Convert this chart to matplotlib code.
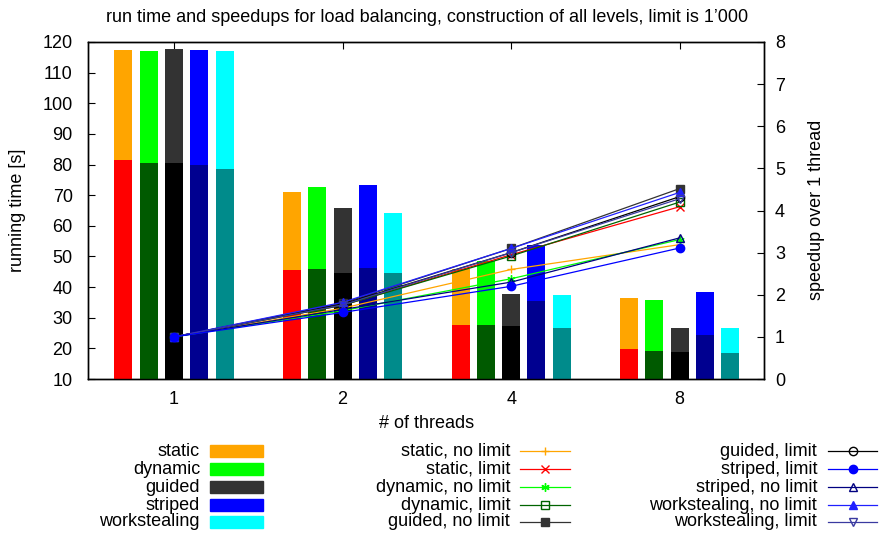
import matplotlib
matplotlib.use("Agg")
import matplotlib.pyplot as plt
from matplotlib.lines import Line2D
from matplotlib.patches import Rectangle

plt.rcParams['font.family'] = ['Liberation Sans', 'DejaVu Sans']

threads = ["1", "2", "4", "8"]

# bar data (running time [s]): total and lower part
schedules = ["static", "dynamic", "guided", "striped", "workstealing"]
time_total = {
    "static":       [117.4, 71.0, 46.0, 36.6],
    "dynamic":      [117.0, 72.6, 48.6, 35.9],
    "guided":       [117.8, 65.9, 37.7, 26.5],
    "striped":      [117.5, 73.2, 53.9, 38.3],
    "workstealing": [117.0, 64.3, 37.5, 26.8],
}
time_part = {
    "static":       [81.4, 45.5, 27.7, 19.8],
    "dynamic":      [80.5, 45.8, 27.7, 19.2],
    "guided":       [80.5, 44.7, 27.3, 18.9],
    "striped":      [80.0, 46.1, 35.5, 24.5],
    "workstealing": [78.7, 44.6, 26.8, 18.5],
}
color_total = ["#ffa500", "#00ff00", "#333333", "#0000ff", "#00ffff"]
color_part = ["#ff0000", "#005a00", "#000000", "#000090", "#008b8b"]

# speedup lines
line_labels = ["static, no limit", "static, limit", "dynamic, no limit",
               "dynamic, limit", "guided, no limit", "guided, limit",
               "striped, limit", "striped, no limit",
               "workstealing, no limit", "workstealing, limit"]
speedups = [
    [1.0, 1.68, 2.60, 3.19],
    [1.0, 1.75, 2.95, 4.09],
    [1.0, 1.62, 2.38, 3.31],
    [1.0, 1.75, 2.92, 4.20],
    [1.0, 1.80, 3.10, 4.52],
    [1.0, 1.78, 3.00, 4.33],
    [1.0, 1.58, 2.20, 3.11],
    [1.0, 1.65, 2.30, 3.35],
    [1.0, 1.82, 3.10, 4.43],
    [1.0, 1.76, 3.00, 4.28],
]
line_colors = ["#ffa500", "#ff0000", "#00ff00", "#006400", "#333333",
               "#000000", "#0000ff", "#000080", "#2020ff", "#3a3aa0"]
line_markers = ["+", "x", (6, 2, 0), "s", "s", "o", "o", "^", "^", "v"]
marker_filled = [True, True, True, False, True, False, True, False, True, False]
# draw order (striped limit dot ends on top, as in the reference)
draw_order = [0, 1, 2, 3, 4, 5, 7, 8, 9, 6]

W, H = 880, 533
fig = plt.figure(figsize=(W / 100, H / 100), dpi=100)
L, R, T, B = 88, 764, 42, 379
ax = fig.add_axes([L / W, 1 - B / H, (R - L) / W, (B - T) / H])
ax2 = ax.twinx()

xs = list(range(len(threads)))
step, width = 0.15, 0.107
for i, s in enumerate(schedules):
    off = (i - 2) * step
    pos = [x + off for x in xs]
    ax.bar(pos, time_total[s], width=width, color=color_total[i], zorder=2)
    ax.bar(pos, time_part[s], width=width, color=color_part[i], zorder=3)

for k in draw_order:
    c, m, f = line_colors[k], line_markers[k], marker_filled[k]
    ax2.plot(xs, speedups[k], color=c, lw=0.9, marker=m, markersize=6,
             markerfacecolor=(c if f else "none"), markeredgecolor=c,
             markeredgewidth=1.0)

ax.set_xlim(-0.51, 3.5)
ax.set_ylim(10, 120)
ax.set_yticks(range(10, 121, 10))
ax.set_xticks(xs)
ax.set_xticklabels(threads)
ax2.set_ylim(0, 8)
ax2.set_yticks(range(0, 9))

fs = 13
ax.tick_params(axis='y', direction='in', length=5, labelsize=fs, right=False, pad=11)
ax.tick_params(axis='x', direction='in', length=5, labelsize=fs, top=True, pad=9)
ax2.tick_params(axis='y', direction='in', length=5, labelsize=fs, pad=8)
for a in (ax, ax2):
    for sp_ in a.spines.values():
        sp_.set_linewidth(1.0)

fig.text(18 / W, 1 - 210 / H, "running time [s]", rotation=90, ha='center', va='center', fontsize=fs)
fig.text(816 / W, 1 - 210 / H, "speedup over 1 thread", rotation=90, ha='center', va='center', fontsize=fs)
fig.text(427 / W, 1 - 423 / H, "# of threads", ha='center', va='center', fontsize=fs)
fig.text(427 / W, 1 - 17 / H,
         "run time and speedups for load balancing, construction of all levels, limit is 1’000",
         ha='center', va='center', fontsize=fs)

# custom legend (labels right-aligned, sample to the right)
def fx(px):
    return px / W

def fy(py):
    return 1 - py / H

rows = [451, 469, 487, 505, 522]
for i, s in enumerate(schedules):
    y = rows[i]
    fig.text(fx(200), fy(y), s, ha='right', va='center', fontsize=fs)
    fig.add_artist(Rectangle((fx(210), fy(y + 6)), fx(263) - fx(210), (12 / H),
                             transform=fig.transFigure, color=color_total[i]))

cols = [(510, 520, 570), (817, 828, 877)]
for k, (lab, c, m, f) in enumerate(zip(line_labels, line_colors, line_markers, marker_filled)):
    col = k // 5
    y = rows[k % 5]
    tx, x0, x1 = cols[col]
    fig.text(fx(tx), fy(y), lab, ha='right', va='center', fontsize=fs)
    fig.add_artist(Line2D([fx(x0), fx(x1)], [fy(y), fy(y)], transform=fig.transFigure,
                          color=c, lw=0.9))
    fig.add_artist(Line2D([fx((x0 + x1) / 2)], [fy(y)], transform=fig.transFigure,
                          color=c, marker=m, markersize=6,
                          markerfacecolor=(c if f else "none"), markeredgecolor=c,
                          markeredgewidth=1.0))

fig.savefig("out.png", dpi=100)
